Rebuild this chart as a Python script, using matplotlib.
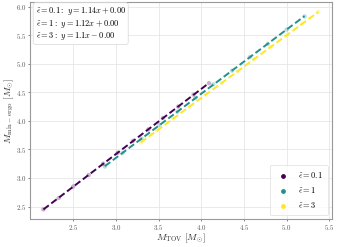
import numpy as np
import matplotlib
matplotlib.use("Agg")
import matplotlib.pyplot as plt

plt.rcParams["font.family"] = "serif"
plt.rcParams["font.serif"] = ["cmr10", "DejaVu Serif"]
plt.rcParams["mathtext.fontset"] = "cm"
plt.rcParams["axes.formatter.use_mathtext"] = True

# M_TOV vs M_min-ergo for three eps values
labels = [r"$\tilde{\epsilon}=0.1$", r"$\tilde{\epsilon}=1$", r"$\tilde{\epsilon}=3$"]
eps_names = [r"\tilde{\epsilon}=0.1", r"\tilde{\epsilon}=1", r"\tilde{\epsilon}=3"]
colors = ["#440154", "#21918c", "#fde725"]

x_01 = [2.15, 2.33, 2.50, 2.68, 2.85, 3.02, 3.20, 3.38, 3.55, 3.73, 3.91, 4.09]
y_01 = [2.45, 2.65, 2.85, 3.05, 3.25, 3.44, 3.65, 3.85, 4.05, 4.25, 4.46, 4.66]

x_1 = [2.87, 3.08, 3.30, 3.51, 3.72, 3.93, 4.14, 4.36, 4.57, 4.78, 5.00, 5.21]
y_1 = [3.20, 3.44, 3.69, 3.93, 4.16, 4.40, 4.64, 4.88, 5.12, 5.35, 5.60, 5.83]

x_3 = [3.29, 3.48, 3.67, 3.86, 4.05, 4.24, 4.43, 4.62, 4.81, 5.00, 5.18, 5.37]
y_3 = [3.62, 3.83, 4.04, 4.25, 4.46, 4.66, 4.87, 5.08, 5.29, 5.50, 5.70, 5.91]

# slopes / intercepts as printed in the box
slopes = ["1.14", "1.12", "1.1"]
intercepts = ["+ 0.00", "+ 0.00", "- 0.00"]

xs = [x_01, x_1, x_3]
ys = [y_01, y_1, y_3]

fig = plt.figure(figsize=(3.37, 2.47), dpi=100)
ax = fig.add_axes([0.088, 0.112, 0.897, 0.88])

for x, y, c, lab in zip(xs, ys, colors, labels):
    x = np.array(x)
    y = np.array(y)
    ax.scatter(x, y, s=10, color=c, alpha=0.3, edgecolors="none", zorder=2)
    ax.scatter([], [], s=6, color=c, label=lab)
    p = np.polyfit(x, y, 1)
    ax.plot(x, np.polyval(p, x), ls="--", color=c, lw=1.4, dashes=(3.5, 1.6), zorder=3)

txt = "\n".join(
    rf"${e}:\ y = {s}x {i}$" for e, s, i in zip(eps_names, slopes, intercepts)
)
ax.text(0.02, 0.985, txt, transform=ax.transAxes, ha="left", va="top", fontsize=6,
        linespacing=1.05,
        bbox=dict(boxstyle="round,pad=0.3", fc="white", ec="#dddddd", lw=0.6))

ax.set_xlabel(r"$M_{\rm TOV}\ [M_{\odot}]$", fontsize=7, labelpad=0, color="#333333")
ax.set_ylabel(r"$M_{\rm min-ergo}\ [M_{\odot}]$", fontsize=7, labelpad=0, color="#333333")

ax.set_xticks([2.5, 3.0, 3.5, 4.0, 4.5, 5.0, 5.5])
ax.set_yticks([2.5, 3.0, 3.5, 4.0, 4.5, 5.0, 5.5, 6.0])
ax.tick_params(labelsize=5, colors="#555555", length=1.5, width=0.5, pad=1)
ax.grid(True, color="#e6e6e6", lw=0.6)
ax.set_axisbelow(True)
for sp in ax.spines.values():
    sp.set_color("#999999")
    sp.set_linewidth(0.8)

leg = ax.legend(loc="lower right", fontsize=6, frameon=True, handletextpad=0.8,
                borderpad=0.6, labelspacing=0.6, markerscale=1.0)
leg.get_frame().set_edgecolor("#dddddd")
leg.get_frame().set_linewidth(0.6)

fig.savefig("out.png", dpi=100)
